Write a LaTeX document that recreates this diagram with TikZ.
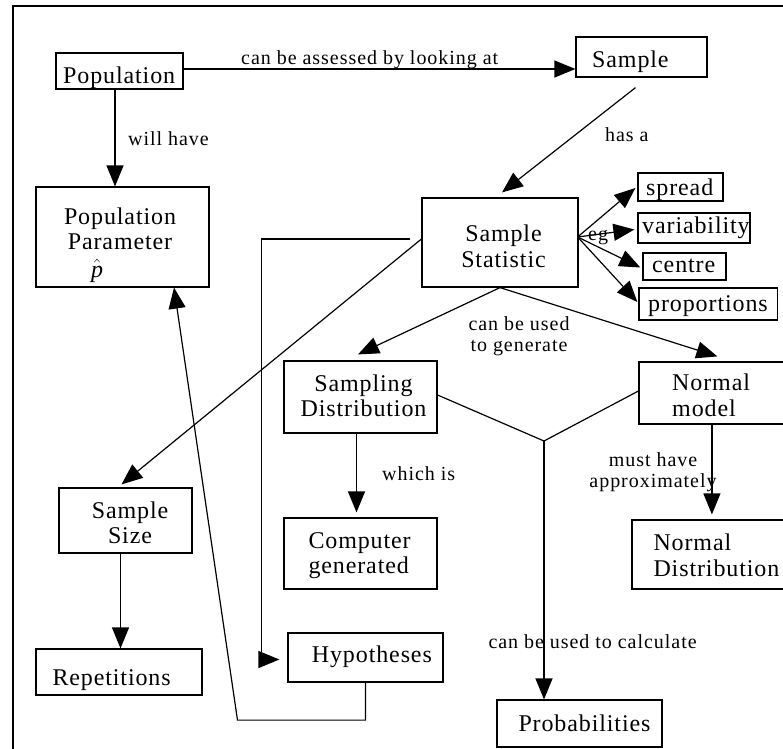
\documentclass[tikz,border=0pt]{standalone}
\usepackage{fontspec}
\setmainfont{Liberation Serif}[LetterSpace=3.7]
\newfontfamily\lblfamily{Liberation Serif}[LetterSpace=4.8]
\usetikzlibrary{arrows.meta,fit,calc}
% stacked lines of text; the first row gives the baseline
\newcommand\rowsof[2]{\begin{tabular}[t]{@{}#1@{}}#2\end{tabular}}

\begin{document}
\begin{tikzpicture}[x=1pt,y=-1pt,
  box/.style={draw, line width=1.2pt, inner sep=0pt},
  conn/.style={line width=1.2pt},
  arr/.style={conn, -{Triangle[length=21pt,width=17pt]}},
  term/.style={inner sep=0pt, font=\fontsize{24pt}{25.3pt}\selectfont},
  lbl/.style={inner sep=0pt, font=\lblfamily\fontsize{20pt}{21pt}\selectfont},
]
\useasboundingbox (0,0) rectangle (783,748);
\clip (0,0) rectangle (783,748);

% page frame
\draw[line width=2pt] (12.5,760) -- (12.5,5.5) -- (800,5.5);

% concept boxes
\node[box, fit={(56,53) (183,89)}] (pop) {};
\node[box, fit={(576,37) (707,77)}] (sample) {};
\node[box, fit={(36,187) (209,287)}] (param) {};
\node[box, fit={(422,198) (578,287)}] (stat) {};
\node[box, fit={(638,173) (723,201)}] (spread) {};
\node[box, fit={(638,213) (750,243)}] (var) {};
\node[box, fit={(643,253) (726,280)}] (centre) {};
\node[box, fit={(639,288) (777.5,320)}] (prop) {};
\node[box, fit={(284,361) (437,433)}] (sdist) {};
\node[box, fit={(639,362) (790,424)}] (model) {};
\node[box, fit={(59,488) (192,553)}] (size) {};
\node[box, fit={(284,518) (437,589)}] (comp) {};
\node[box, fit={(632,520) (790,589)}] (ndist) {};
\node[box, fit={(36,649) (202,695)}] (reps) {};
\node[box, fit={(288,633) (443,682)}] (hyp) {};
\node[box, fit={(497,700) (662,747)}] (prob) {};

% box texts
\node[term, anchor=base west] (pop-t) at (63,83) {Population};
\node[term, anchor=base west] (sample-t) at (592,67) {Sample};
\node[term, anchor=base] (param-t) at (120,224)
  {\rowsof{c}{Population\\Parameter\\[2.4pt]$\hat{\mathit{p}}$\hspace*{46pt}}};
\node[term, anchor=base] (stat-t) at (503.5,241.7) {\rowsof{c}{Sample\\Statistic}};
\node[term, anchor=base west] (spread-t) at (646,195) {spread};
\node[term, anchor=base west] (var-t) at (642,233.3) {variability};
\node[term, anchor=base west] (centre-t) at (652,272.7) {centre};
\node[term, anchor=base west] (prop-t) at (648,311.7) {proportions};
\node[term, anchor=base] (sdist-t) at (363.5,391) {\rowsof{c}{Sampling\\Distribution}};
\node[term, anchor=base west] (model-t) at (672,390.7) {\rowsof{l}{Normal\\model}};
\node[term, anchor=base] (size-t) at (130,518.3) {\rowsof{c}{Sample\\Size}};
\node[term, anchor=base west] (comp-t) at (308.3,548.3) {\rowsof{l}{Computer\\generated}};
\node[term, anchor=base west] (ndist-t) at (653.3,550.7) {\rowsof{l}{Normal\\Distribution}};
\node[term, anchor=base west] (reps-t) at (52.3,685) {Repetitions};
\node[term, anchor=base west] (hyp-t) at (311.7,662.7) {Hypotheses};
\node[term, anchor=base west] (prob-t) at (518.3,731.7) {Probabilities};

% links
\draw[arr] ([yshift=2pt]pop.east) -- ([yshift=2pt]pop.east -| sample.west);
\draw[arr] ([xshift=-4.5pt]pop.south) -- ([xshift=-4.5pt]pop.south |- param.north);
\draw[arr] ($(sample.south)+(-6,10)$) -- ($(stat.north)+(2,-5)$);
\foreach \t/\dx/\dy in {spread/-2/1, var/-3/1.5, centre/-2/1, prop/-1/-2}
  \draw[arr] ($(stat.east)+(-1,-5.5)$) -- ($(\t.west)+(\dx,\dy)$);
\draw[arr, shorten >=8pt] ([xshift=-11pt,yshift=3.5pt]stat.west)
  -| ([xshift=-26pt,yshift=-2pt]hyp.west) -- ([yshift=-2pt]hyp.west);
\draw[arr] ([yshift=3.5pt]stat.west) -- ($(size.north)+(-4,-3)$);
\draw[arr] ([xshift=-5pt]size.south) -- ([xshift=-5pt]size.south |- reps.north);
\draw[arr] (hyp.south) -- ++(0,37.5) -- ++(-128,0) -- ([xshift=51.5pt]param.south);
\draw[arr] (stat.south) -- ($(sdist.north)+(-2.5,-6)$);
\draw[arr] (stat.south) -- ($(model.north west)+(79,-5)$);
\draw[arr, shorten >=5pt] ([xshift=-4pt]sdist.south) -- ([xshift=-4pt]sdist.south |- comp.north);
\draw[arr, shorten >=5pt] ([xshift=73.5pt]model.south west)
  -- ([xshift=73.5pt]model.south west |- ndist.north);
\coordinate (join) at (544,441);
\draw[conn] ([yshift=2pt]sdist.east) -- (join) -- ([yshift=2pt]model.west);
\draw[arr] (join) -- (join |- prob.north);

% link labels
\node[lbl, anchor=base west] (l-assess) at (241,64) {can be assessed by looking at};
\node[lbl, anchor=base west] (l-will) at (128,145) {will have};
\node[lbl, anchor=base west] (l-has) at (605,141) {has a};
\node[lbl, anchor=base west] (l-eg) at (588,240) {eg};
\node[lbl, anchor=base] (l-gen) at (519,330.7) {\rowsof{c}{can be used\\to generate}};
\node[lbl, anchor=base west] (l-which) at (382,480) {which is};
\node[lbl, anchor=base] (l-must) at (653,466.7) {\rowsof{c}{must have\\approximately}};
\node[lbl, anchor=base west] (l-calc) at (488.3,648.3) {can be used to calculate};
\end{tikzpicture}
\end{document}
